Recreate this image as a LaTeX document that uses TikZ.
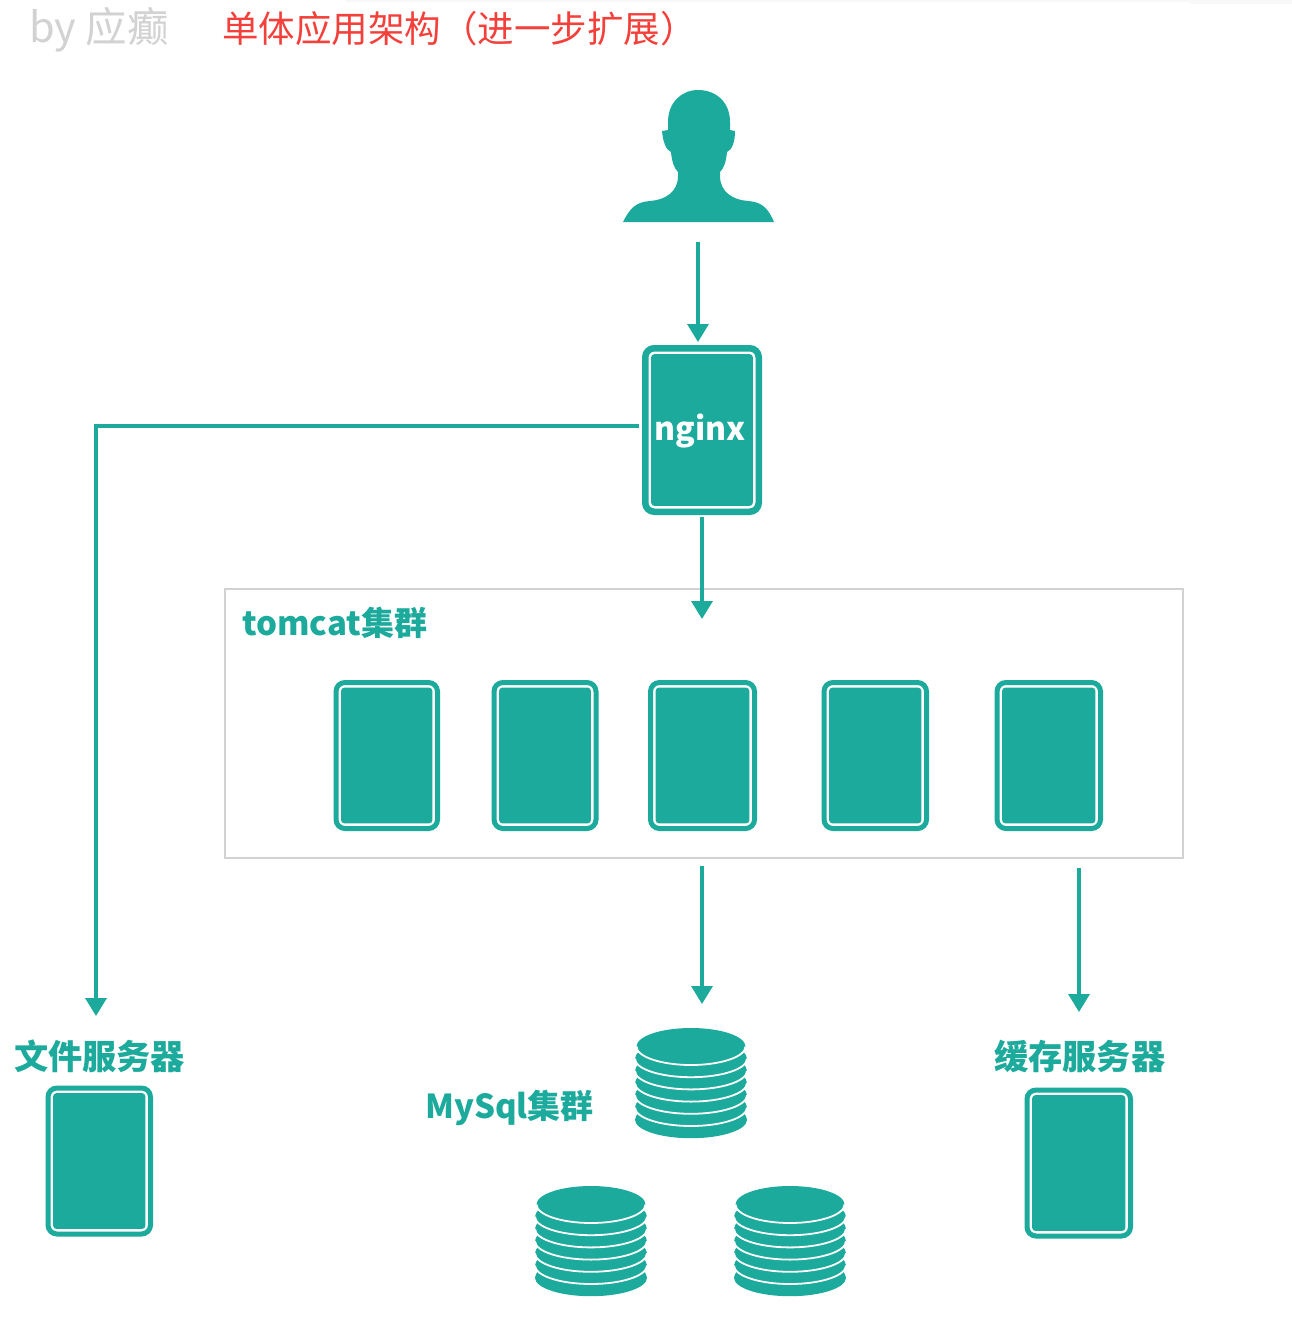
\documentclass[tikz,border=0pt]{standalone}
\usepackage{fontspec}
\usetikzlibrary{arrows.meta}
\newfontfamily\cjk{Noto Sans CJK SC}
\definecolor{teal1}{HTML}{1BAA9B}
\definecolor{gray1}{HTML}{D2D2D2}
\definecolor{red1}{HTML}{F4403A}
\definecolor{band1}{HTML}{F8F8F8}
\newcommand{\dbstack}[2]{%
  \foreach \k in {6,5,...,0}{
    \pgfmathsetmacro{\cy}{#2+12.2*\k}
    \pgfmathsetmacro{\rx}{\k==0 ? 54.5 : 56}
    \fill[teal1] (#1,\cy) ellipse [x radius=\rx, y radius=18.5];
    \ifnum\k<6
      \draw[white,line width=1.8] (#1-\rx,\cy) arc [start angle=180,end angle=0,x radius=\rx,y radius=18.5];
    \fi
  }
}
\tikzset{
  x=1pt,y=-1pt,
  serverbox/.style={draw=teal1,rounded corners=9,fill=white,inner sep=0,outer sep=0,anchor=north west},
  servercore/.style={fill=teal1,rounded corners=3,inner sep=0,outer sep=0,anchor=north west},
  arrowline/.style={draw=teal1,line width=3.4,-{Triangle[length=18,width=21]}},
  tealtext/.style={text=teal1,font=\cjk\bfseries\fontsize{33}{36}\selectfont,inner sep=0,anchor=west}
}
\newcommand{\server}[6]{% name x0 y0 x1 y1 stroke
  \pgfmathsetmacro{\wa}{#4-#2-#6}\pgfmathsetmacro{\ha}{#5-#3-#6}
  \pgfmathsetmacro{\ins}{#6+2.7}
  \pgfmathsetmacro{\wb}{#4-#2-2*\ins}\pgfmathsetmacro{\hb}{#5-#3-2*\ins}
  \node[serverbox,line width=#6,minimum width=\wa,minimum height=\ha] (#1) at (#2+#6/2,#3+#6/2) {};
  \node[servercore,minimum width=\wb,minimum height=\hb] (#1core) at (#2+\ins,#3+\ins) {};
}
\begin{document}
\begin{tikzpicture}
\useasboundingbox (0,0) rectangle (1292,1344);
\fill[white] (0,0) rectangle (1292,1344);
\fill[band1] (345,0) rectangle (1292,2);
\fill[band1] (1190,0) rectangle (1292,4);
% title
\node[text=gray1,font=\cjk\fontsize{41.5}{44}\selectfont,inner sep=0,anchor=west] (by) at (29,30) {by 应癫};
\node[text=red1,font=\cjk\fontsize{36.5}{40}\selectfont,inner sep=0,anchor=west] (title) at (222,29) {单体应用架构（进一步扩展）};
% person
\fill[teal1] (623,222) .. controls (630,208) and (636,202) .. (650,201)
  .. controls (665,200) and (678,192) .. (678,176)
  -- (678,172) .. controls (674,168) and (672,162) .. (671,152)
  .. controls (666,150) and (663,142) .. (662,131)
  -- (668,130) -- (668,122) .. controls (668,102) and (682,90) .. (698,90)
  .. controls (716,90) and (730,102) .. (730,122)
  -- (730,130) -- (735,131) .. controls (735,142) and (732,150) .. (727,152)
  .. controls (726,162) and (724,168) .. (720,172)
  -- (720,176) .. controls (720,192) and (733,200) .. (748,201)
  .. controls (762,202) and (768,208) .. (774,222) -- cycle;
\coordinate (personfoot) at (698,242);
\coordinate (nginxtop) at (698,342);
% nginx
\server{nginx}{642}{345}{762}{515}{6.5}
\node[text=white,font=\cjk\bfseries\fontsize{32}{36}\selectfont,inner sep=0] (nginxlabel) at (700,431) {nginx};
% tomcat cluster
\node[draw=gray1,line width=1.8,fill=white,inner sep=0,outer sep=0,anchor=north west,minimum width=958,minimum height=269] (cluster) at (225,589) {};
\node[tealtext] (clusterlabel) at (242,623) {tomcat集群};
\server{tomcatA}{333.5}{680}{440}{831}{5}
\server{tomcatB}{491.5}{680}{598.5}{831}{5}
\server{tomcatC}{648}{680}{757}{831}{5}
\server{tomcatD}{821.5}{680}{929}{831}{5}
\server{tomcatE}{994.5}{680}{1103}{831}{5}
% bottom
\node[tealtext,font=\cjk\bfseries\fontsize{34.2}{36}\selectfont] (filelabel) at (14,1056) {文件服务器};
\server{fileserver}{45.5}{1085.5}{153}{1236.5}{5}
\node[tealtext,font=\cjk\bfseries\fontsize{34.2}{36}\selectfont] (cachelabel) at (994,1056) {缓存服务器};
\server{cacheserver}{1024.5}{1087.5}{1133}{1238.5}{5}
\node[tealtext] (mysqllabel) at (425,1108) {MySql集群};
\dbstack{691}{1046.5}
\dbstack{591}{1204.5}
\dbstack{790}{1204.5}
% connectors
\coordinate (nginxwest) at (639,426);
\coordinate (filetop) at (96,1016);
\coordinate (nginxfoot) at (702,517);
\coordinate (clusterentry) at (702,619);
\coordinate (clusterfootA) at (702,866);
\coordinate (mysqltop) at (702,1004);
\coordinate (clusterfootB) at (1079,868);
\coordinate (cachetop) at (1079,1012);
\draw[arrowline] (personfoot) -- (nginxtop);
\draw[arrowline] (nginxwest) -| (filetop);
\draw[arrowline] (nginxfoot) -- (clusterentry);
\draw[arrowline] (clusterfootA) -- (mysqltop);
\draw[arrowline] (clusterfootB) -- (cachetop);
\end{tikzpicture}
\end{document}
